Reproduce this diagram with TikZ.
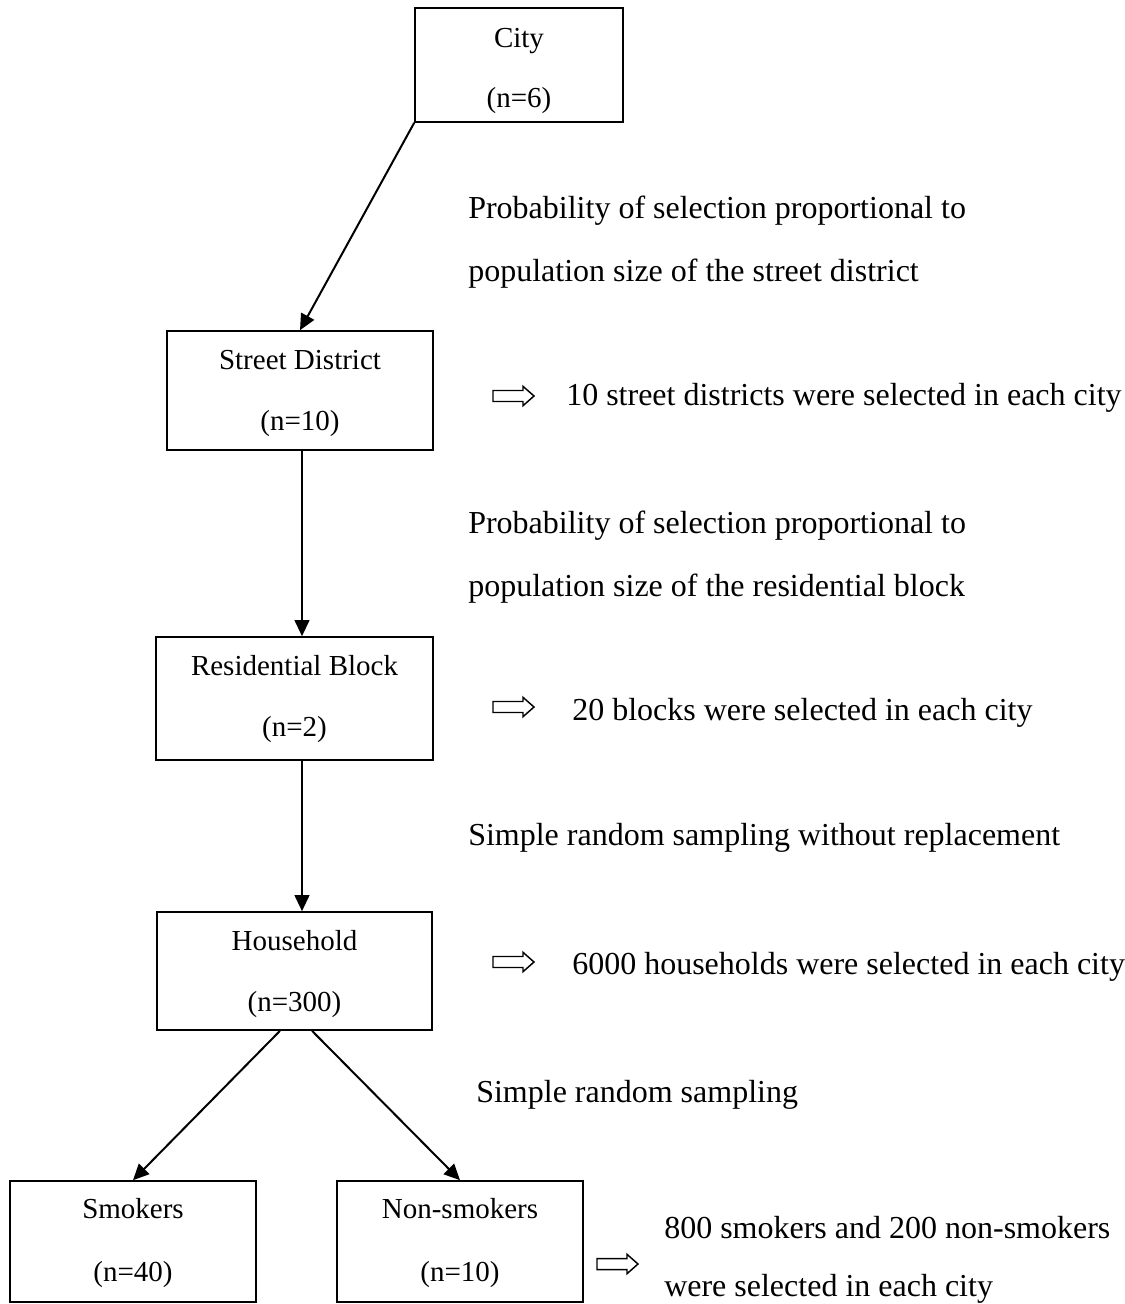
\documentclass[tikz,border=0pt]{standalone}
\usepackage{fontspec}
\setmainfont{Liberation Serif}
\usetikzlibrary{arrows.meta,fit,calc}
\begin{document}
\begin{tikzpicture}[x=0.75pt,y=-0.75pt,
  box/.style={draw,line width=1.2pt,inner sep=0pt},
  lbl/.style={anchor=base,font=\fontsize{21.75}{26}\selectfont,inner sep=0pt},
  side/.style={anchor=base west,font=\fontsize{24}{29}\selectfont,inner sep=0pt},
  arr/.style={line width=1.5pt,-{Triangle[length=12pt,width=11pt]}},
  harrow/.pic={\draw[line width=1.1pt,line join=miter] (0,-5.5)--(30,-5.5)--(30,-9.7)--(41,0)--(30,9.7)--(30,5.5)--(0,5.5)--cycle;}
]
\useasboundingbox (0,0) rectangle (1125,1304);

% boxes
\node[box,fit={(415,8)(623,122)}] (city) {};
\node[box,fit={(167,331)(433,450)}] (street) {};
\node[box,fit={(156,637)(433,760)}] (res) {};
\node[box,fit={(157,912)(432,1030)}] (hh) {};
\node[box,fit={(10,1181)(256,1302)}] (smk) {};
\node[box,fit={(337,1181)(583,1302)}] (nsmk) {};

% box labels
\node[lbl] (cityA) at (519,47) {City};
\node[lbl] (cityB) at (519,107) {(n=6)};
\node[lbl] (streetA) at (300,369) {Street District};
\node[lbl] (streetB) at (300,430) {(n=10)};
\node[lbl] (resA) at (294.5,675) {Residential Block};
\node[lbl] (resB) at (294.5,736) {(n=2)};
\node[lbl] (hhA) at (294.5,950) {Household};
\node[lbl] (hhB) at (294.5,1011) {(n=300)};
\node[lbl] (smkA) at (133,1218) {Smokers};
\node[lbl] (smkB) at (133,1281) {(n=40)};
\node[lbl] (nsmkA) at (460,1218) {Non-smokers};
\node[lbl] (nsmkB) at (460,1281) {(n=10)};

% connectors
\draw[arr] (city.south west) -- (street.north);
\draw[arr] (street.south -| 302,0) -- (res.north -| 302,0);
\draw[arr] (res.south -| 302,0) -- (hh.north -| 302,0);
\draw[arr] ($(hh.south)+(-14.5,0)$) -- (smk.north);
\draw[arr] ($(hh.south)+(17.5,0)$) -- (nsmk.north);

% side texts
\node[side] (t1) at (468,218) {Probability of selection proportional to};
\node[side] (t2) at (468,281) {population size of the street district};
\pic at (493,396) {harrow};
\node[side] (t3) at (566,405) {10 street districts were selected in each city};
\node[side] (t4) at (468,533) {Probability of selection proportional to};
\node[side] (t5) at (468,596) {population size of the residential block};
\pic at (493,707) {harrow};
\node[side] (t6) at (572,720) {20 blocks were selected in each city};
\node[side] (t7) at (468,845) {Simple random sampling without replacement};
\pic at (493,962) {harrow};
\node[side] (t8) at (572,974) {6000 households were selected in each city};
\node[side] (t9) at (476,1102) {Simple random sampling};
\pic at (597,1264) {harrow};
\node[side] (t10) at (664,1238) {800 smokers and 200 non-smokers};
\node[side] (t11) at (664,1296) {were selected in each city};
\end{tikzpicture}
\end{document}
